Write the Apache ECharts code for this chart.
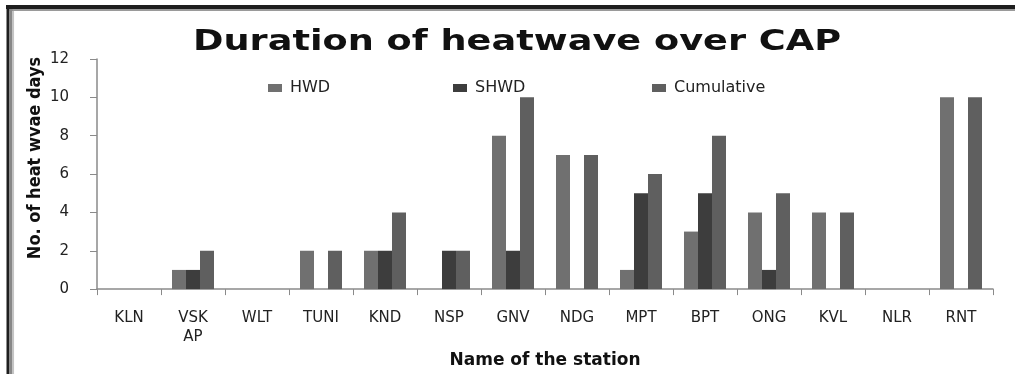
<!DOCTYPE html>
<html>
<head>
<meta charset="utf-8">
<script src="https://cdn.jsdelivr.net/npm/echarts@6/dist/echarts.min.js"></script>
<style>
html,body{margin:0;padding:0;background:#fff;}
#c{width:1015px;height:374px;}
</style>
</head>
<body>
<div id="c"></div>
<script>
const categories = ['KLN', 'VSK\nAP', 'WLT', 'TUNI', 'KND', 'NSP', 'GNV', 'NDG', 'MPT', 'BPT', 'ONG', 'KVL', 'NLR', 'RNT'];
const hwd        = [0, 1, 0, 2, 2, 0, 8, 7, 1, 3, 4, 4, 0, 10];
const shwd       = [0, 1, 0, 0, 2, 2, 2, 0, 5, 5, 1, 0, 0, 0];
const cumulative = [0, 2, 0, 2, 4, 2, 10, 7, 6, 8, 5, 4, 0, 10];
const yTicks = [0, 2, 4, 6, 8, 10, 12];
const titleText = 'Duration of heatwave over CAP';
const yName = 'No. of heat wvae days';
const xName = 'Name of the station';

const font = '"DejaVu Sans", "Open Sans", sans-serif';
const chart = echarts.init(document.getElementById('c'));

function legendAt(name, left) {
  return {
    data: [name], left: left, top: 80, padding: 0, itemWidth: 14, itemHeight: 8,
    icon: 'rect',
    textStyle: { fontFamily: font, fontSize: 16, color: '#222', padding: [0, 0, 0, 3] }
  };
}

chart.setOption({
  animation: false,
  backgroundColor: '#fff',
  legend: [legendAt('HWD', 268), legendAt('SHWD', 453), legendAt('Cumulative', 652)],
  grid: { left: 97, right: 22, top: 59, bottom: 73 },
  xAxis: {
    type: 'category',
    data: categories,
    name: xName,
    nameLocation: 'middle',
    nameGap: 58,
    nameTextStyle: { fontFamily: font, fontSize: 17, fontWeight: 'bold', color: '#111' },
    axisLine: { lineStyle: { color: '#8a8a8a', width: 1.5 } },
    axisTick: { show: true, length: 6, lineStyle: { color: '#8a8a8a' } },
    axisLabel: { fontFamily: font, fontSize: 15, color: '#222', margin: 20, lineHeight: 19 }
  },
  yAxis: {
    type: 'value',
    min: 0, max: 12, interval: 2,
    axisLine: { show: true, lineStyle: { color: '#8a8a8a', width: 1.5 } },
    axisTick: { show: true, length: 7, lineStyle: { color: '#8a8a8a' } },
    splitLine: { show: false },
    axisLabel: {
      fontFamily: font, fontSize: 15, color: '#222', margin: 28,
      formatter: v => yTicks.includes(v) ? String(v) : ''
    }
  },
  series: [
    { name: 'HWD', type: 'bar', data: hwd, barWidth: 14, barGap: '0%',
      itemStyle: { color: '#707070' } },
    { name: 'SHWD', type: 'bar', data: shwd, barWidth: 14, barGap: '0%',
      itemStyle: { color: '#3d3d3d' } },
    { name: 'Cumulative', type: 'bar', data: cumulative, barWidth: 14, barGap: '0%',
      itemStyle: { color: '#5f5f5f' } }
  ],
  graphic: [
    { type: 'line', shape: { x1: 6, y1: 7, x2: 1015, y2: 7 }, style: { stroke: '#1e1e1e', lineWidth: 4 } },
    { type: 'line', shape: { x1: 9.5, y1: 10, x2: 1015, y2: 10 }, style: { stroke: '#9a9a9a', lineWidth: 2 } },
    { type: 'line', shape: { x1: 8, y1: 5, x2: 8, y2: 374 }, style: { stroke: '#1e1e1e', lineWidth: 3 } },
    { type: 'line', shape: { x1: 11, y1: 9, x2: 11, y2: 374 }, style: { stroke: '#888', lineWidth: 3 } },
    { type: 'line', shape: { x1: 13.3, y1: 11, x2: 13.3, y2: 374 }, style: { stroke: '#c4c4c4', lineWidth: 1.5 } },
    { type: 'text', x: 517, y: 43, scaleX: 1.31,
      style: { text: titleText, font: 'bold 28px ' + font, fill: '#111',
               textAlign: 'center', textVerticalAlign: 'middle', align: 'center', verticalAlign: 'middle' } },
    { type: 'text', x: 35, y: 158, rotation: Math.PI / 2,
      style: { text: yName, font: 'bold 18px "Liberation Sans Narrow", "DejaVu Sans Condensed", sans-serif', fill: '#111',
               textAlign: 'center', textVerticalAlign: 'middle', align: 'center', verticalAlign: 'middle' } }
  ]
});
</script>
</body>
</html>
